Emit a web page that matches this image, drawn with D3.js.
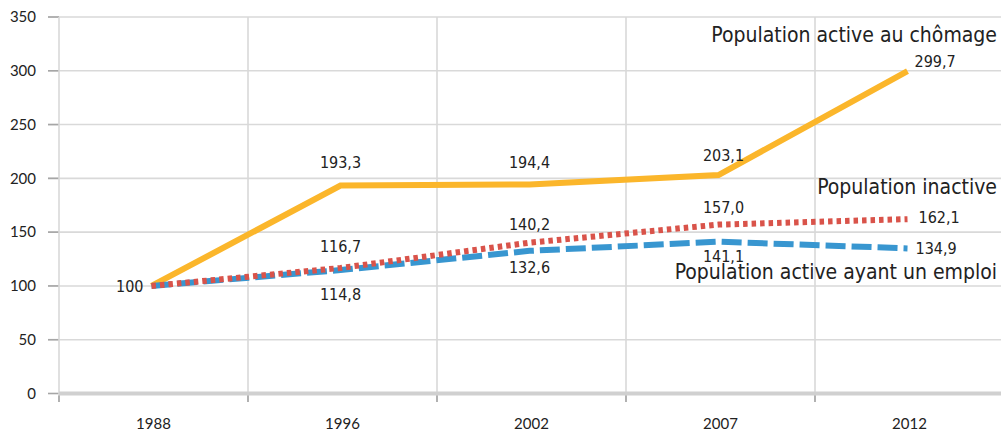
<!DOCTYPE html>
<html><head><meta charset="utf-8">
<script src="https://cdn.jsdelivr.net/npm/d3@7"></script>
<style>body{margin:0;background:#fff}</style>
</head><body><svg id="c" width="1001" height="432"></svg>
<script>
const years = ["1988","1996","2002","2007","2012"];
const chomage = [100, 193.3, 194.4, 203.1, 299.7];
const inactive = [100, 116.7, 140.2, 157.0, 162.1];
const emploi = [100, 114.8, 132.6, 141.1, 134.9];
const yTicks = [0,50,100,150,200,250,300,350];
const names = ["Population active au chômage","Population inactive","Population active ayant un emploi"];

const svg = d3.select("#c");
const x = d3.scaleBand().domain(years).range([59, 1004]).padding(0);
const y = d3.scaleLinear().domain([0,350]).range([393.5, 17]);
const cx = d => x(d) + x.bandwidth()/2 - 2;

// horizontal gridlines
svg.append("g").selectAll("line").data(yTicks.filter(t=>t>0)).join("line")
  .attr("x1",48).attr("x2",1001).attr("y1",d=>y(d)).attr("y2",d=>y(d))
  .attr("stroke","#d9d9d9").attr("stroke-width",1.6);
// tick stubs
svg.append("g").selectAll("line").data(yTicks).join("line")
  .attr("x1",48).attr("x2",59).attr("y1",d=>y(d)).attr("y2",d=>y(d))
  .attr("stroke","#a6a6a6").attr("stroke-width",1.6);
// vertical gridlines
const bounds = years.map(d=>x(d));
svg.append("g").selectAll("line").data(bounds).join("line")
  .attr("x1",d=>d).attr("x2",d=>d).attr("y1",y(350)).attr("y2",402)
  .attr("stroke","#d9d9d9").attr("stroke-width",1.6);
// x axis line
svg.append("line").attr("x1",59).attr("x2",1001).attr("y1",y(0)).attr("y2",y(0))
  .attr("stroke","#d0d0d0").attr("stroke-width",4);
svg.append("g").selectAll("line").data(bounds).join("line")
  .attr("x1",d=>d).attr("x2",d=>d).attr("y1",y(0)+2).attr("y2",402)
  .attr("stroke","#a6a6a6").attr("stroke-width",1.6);

// axis labels
svg.append("g").selectAll("text").data(yTicks).join("text")
  .attr("x",36).attr("y",d=>y(d)).attr("dy","0.35em").attr("text-anchor","end")
  .attr("font-family","Lato").attr("font-size",15).attr("fill","#222").text(d=>d);
svg.append("g").selectAll("text").data(years).join("text")
  .attr("x",d=>x(d)+x.bandwidth()/2).attr("y",424).attr("dy","0.35em").attr("text-anchor","middle")
  .attr("font-family","Lato").attr("font-size",15).attr("fill","#222").text(d=>d);

const line = d3.line().x((d,i)=>cx(years[i])).y(d=>y(d));
svg.append("path").datum(chomage).attr("d",line).attr("fill","none")
  .attr("stroke","#FBB62B").attr("stroke-width",6);
svg.append("path").datum(emploi).attr("d",line).attr("fill","none")
  .attr("stroke","#3896D0").attr("stroke-width",6).attr("stroke-dasharray","20,6");
svg.append("path").datum(inactive).attr("d",line).attr("fill","none")
  .attr("stroke","#D9534A").attr("stroke-width",6).attr("stroke-dasharray","4.5,4");

const fmt = v => v===100 ? "100" : v.toFixed(1).replace(".",",");
const lab = (arr, dyArr, dxArr, anchorArr) => {
  const items = arr.map((v,i)=>({v,i})).filter(o=>dyArr[o.i]!==null);
  svg.append("g").selectAll("text").data(items).join("text")
    .attr("x",o=>cx(years[o.i])+dxArr[o.i]).attr("y",o=>y(o.v)+dyArr[o.i])
    .attr("dy","0.35em").attr("text-anchor",o=>anchorArr[o.i])
    .attr("font-family","DejaVu Sans Condensed, DejaVu Sans").attr("font-stretch","condensed")
    .attr("font-size",16).attr("fill","#222").text(o=>fmt(o.v));
};
lab(chomage, [0,-23,-22,-20,-10], [-8,0,0,5,7], ["end","middle","middle","middle","start"]);
lab(inactive, [null,-22,-18,-17,-2], [0,0,0,5,11], ["end","middle","middle","middle","start"]);
lab(emploi, [null,24,17,15,0], [0,0,0,5,8], ["end","middle","middle","middle","start"]);

const nameY = [y(chomage[4])-36, y(inactive[4])-32, y(emploi[4])+23];
svg.append("g").selectAll("text").data(names).join("text")
  .attr("x",997).attr("y",(d,i)=>nameY[i]).attr("dy","0.35em").attr("text-anchor","end")
  .attr("font-family","DejaVu Sans Condensed, DejaVu Sans").attr("font-stretch","condensed")
  .attr("font-size",21).attr("fill","#222").text(d=>d);
</script></body></html>
